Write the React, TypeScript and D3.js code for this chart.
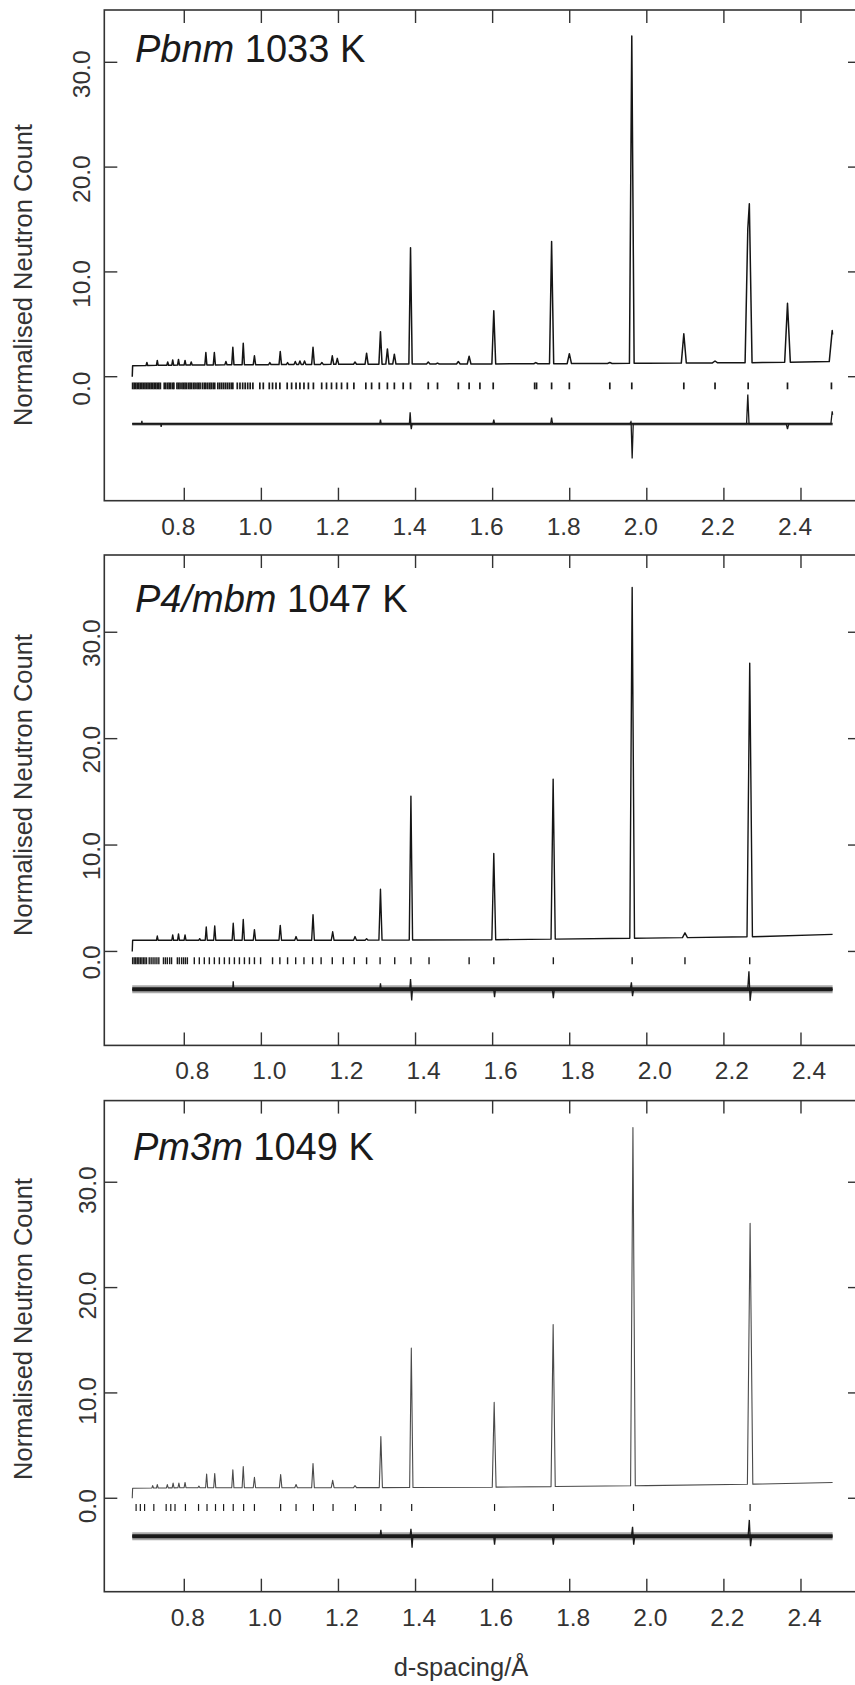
import React, { useRef, useEffect } from "react";
import * as d3 from "d3";

// shared axes
const xTicks = [0.8, 1.0, 1.2, 1.4, 1.6, 1.8, 2.0, 2.2, 2.4];
const yTicks = [0, 10, 20, 30];

// ---- Pbnm 1033 K ----
const bg1D = [0.665, 0.666, 0.75, 1.0, 1.3, 1.6, 2.0, 2.3, 2.482];
const bg1V = [0, 1.05, 1.1, 1.15, 1.2, 1.22, 1.28, 1.35, 1.45];
const pk1D = [0.703, 0.73, 0.757, 0.77, 0.785, 0.802, 0.818, 0.856, 0.878, 0.908, 0.926, 0.953, 0.982, 1.022, 1.049, 1.068, 1.088, 1.1, 1.112, 1.134, 1.157, 1.184, 1.197, 1.243, 1.273, 1.309, 1.327, 1.345, 1.387, 1.433, 1.457, 1.511, 1.539, 1.603, 1.712, 1.753, 1.799, 1.904, 1.961, 2.096, 2.177, 2.262, 2.266, 2.365, 2.481];
const pk1V = [1.35, 1.55, 1.4, 1.6, 1.65, 1.55, 1.4, 2.3, 2.3, 1.45, 2.8, 3.2, 2.0, 1.35, 2.4, 1.35, 1.45, 1.5, 1.5, 2.8, 1.35, 2.0, 1.75, 1.4, 2.25, 4.3, 2.65, 2.15, 12.3, 1.4, 1.3, 1.45, 1.95, 6.3, 1.35, 12.9, 2.2, 1.35, 32.5, 4.1, 1.5, 14.1, 16.5, 7.0, 4.4];
const tk1D = [
  0.666, 0.67, 0.674, 0.678, 0.682, 0.686, 0.69, 0.694, 0.698, 0.702, 0.706, 0.71, 0.714, 0.718, 0.722, 0.726, 0.73, 0.734, 0.738,
  0.748, 0.752, 0.757, 0.761, 0.765, 0.77, 0.773,
  0.781, 0.785, 0.789, 0.794, 0.798, 0.802, 0.806, 0.811, 0.815, 0.819, 0.824, 0.828, 0.833, 0.837, 0.841,
  0.847, 0.852, 0.856, 0.861, 0.866, 0.87, 0.875, 0.879,
  0.887, 0.892, 0.897, 0.902, 0.907, 0.912, 0.917, 0.922, 0.926,
  0.9375, 0.9445, 0.9515, 0.958, 0.9645, 0.971, 0.978, 0.996, 1.005, 1.0205, 1.029, 1.038, 1.048,
  1.067, 1.0785, 1.09, 1.1, 1.1105, 1.122, 1.135, 1.1565, 1.169, 1.182, 1.195, 1.208, 1.223, 1.24,
  1.271, 1.286, 1.306, 1.327, 1.345, 1.368, 1.387, 1.433, 1.457, 1.511, 1.539, 1.567, 1.6015,
  1.709, 1.714, 1.753, 1.799, 1.904, 1.961, 2.096, 2.177, 2.263, 2.365, 2.479,
];
const df1D = [0.69, 0.74, 1.309, 1.386, 1.389, 1.603, 1.753, 1.959, 1.962, 2.262, 2.365, 2.481];
const df1V = [-4.2, -4.8, -4.1, -3.4, -5.0, -4.1, -3.9, -4.3, -7.8, -1.7, -5.0, -3.3];

// ---- P4/mbm 1047 K ----
const bg2D = [0.665, 0.666, 0.8, 1.2, 1.6, 2.0, 2.3, 2.482];
const bg2V = [0, 1.05, 1.05, 1.05, 1.1, 1.25, 1.4, 1.6];
const pk2D = [0.73, 0.77, 0.785, 0.802, 0.84, 0.857, 0.879, 0.927, 0.953, 0.982, 1.049, 1.09, 1.134, 1.185, 1.243, 1.273, 1.309, 1.388, 1.603, 1.757, 1.962, 2.099, 2.267];
const pk2V = [1.45, 1.55, 1.65, 1.55, 1.2, 2.3, 2.4, 2.65, 3.0, 2.05, 2.45, 1.4, 3.45, 1.85, 1.4, 1.2, 5.85, 14.6, 9.2, 16.2, 34.2, 1.75, 27.1];
const tk2D = [
  0.666, 0.67, 0.674, 0.678, 0.682, 0.686, 0.69, 0.694, 0.698, 0.702,
  0.709, 0.714, 0.719, 0.724, 0.729, 0.734,
  0.746, 0.751, 0.756, 0.762, 0.767,
  0.782, 0.787, 0.793, 0.798, 0.803, 0.808,
  0.826, 0.839, 0.852, 0.865, 0.878, 0.891, 0.904, 0.917, 0.93, 0.943, 0.956, 0.969, 0.982, 0.998,
  1.029, 1.048, 1.068, 1.089, 1.1105, 1.133, 1.155, 1.184, 1.2125, 1.241, 1.273, 1.308, 1.346, 1.388, 1.435,
  1.539, 1.603, 1.7575, 1.962, 2.099, 2.267,
];
const df2D = [0.927, 1.309, 1.387, 1.39, 1.605, 1.7575, 1.96, 1.963, 2.265, 2.268];
const df2V = [-2.8, -3.0, -2.6, -4.6, -4.3, -4.4, -2.9, -4.2, -1.8, -4.7];

// ---- Pm3m 1049 K ----
const bg3D = [0.665, 0.666, 0.8, 1.2, 1.6, 2.0, 2.3, 2.482];
const bg3V = [0, 0.95, 1.0, 1.0, 1.05, 1.2, 1.35, 1.5];
const pk3D = [0.718, 0.73, 0.756, 0.771, 0.786, 0.802, 0.838, 0.858, 0.879, 0.926, 0.953, 0.982, 1.05, 1.09, 1.134, 1.185, 1.243, 1.31, 1.389, 1.604, 1.757, 1.964, 2.268];
const pk3V = [1.2, 1.3, 1.3, 1.45, 1.45, 1.5, 1.15, 2.3, 2.35, 2.7, 3.0, 2.0, 2.25, 1.3, 3.3, 1.7, 1.2, 5.85, 14.25, 9.1, 16.5, 35.2, 26.1];
const tk3D = [0.675, 0.686, 0.697, 0.721, 0.753, 0.765, 0.776, 0.803, 0.837, 0.859, 0.881, 0.902, 0.927, 0.954, 0.982, 1.05, 1.09, 1.135, 1.186, 1.244, 1.31, 1.39, 1.605, 1.7575, 1.9655, 2.268];
const df3D = [1.31, 1.388, 1.391, 1.605, 1.7575, 1.963, 1.966, 2.266, 2.269];
const df3V = [-3.0, -2.9, -4.7, -4.4, -4.4, -2.7, -4.4, -2.0, -4.6];

const panels = [
  {
    group: "Pbnm", temp: " 1033 K",
    bgD: bg1D, bgV: bg1V, pkD: pk1D, pkV: pk1V, tkD: tk1D, dfD: df1D, dfV: df1V, dfBase: -4.5,
    top: 10, bottom: 500.7, yMin: -11.83, yMax: 34.99,
    titleY: 61.7, titleX: 135, yLabX: 90, yLabDy: 12, xLabDx: -6, yTitleY: 275,
    line: "#151515", lineW: 1.5, band: 1.8, fringe: 3.5, tkW: 1.7,
  },
  {
    group: "P4/mbm", temp: " 1047 K",
    bgD: bg2D, bgV: bg2V, pkD: pk2D, pkV: pk2V, tkD: tk2D, dfD: df2D, dfV: df2V, dfBase: -3.56,
    top: 555, bottom: 1045.4, yMin: -8.83, yMax: 37.26,
    titleY: 611.7, titleX: 135, yLabX: 100, yLabDy: 11, xLabDx: 8, yTitleY: 785,
    line: "#151515", lineW: 1.4, band: 4, fringe: 8, tkW: 1.4,
  },
  {
    group: "Pm3m", temp: " 1049 K",
    bgD: bg3D, bgV: bg3V, pkD: pk3D, pkV: pk3V, tkD: tk3D, dfD: df3D, dfV: df3V, dfBase: -3.6,
    top: 1100.6, bottom: 1591.7, yMin: -8.87, yMax: 37.75,
    titleY: 1160.2, titleX: 133, yLabX: 96, yLabDy: 8, xLabDx: 3.5, yTitleY: 1329,
    line: "#4a4a4a", lineW: 1.1, band: 4, fringe: 8, tkW: 1.2,
  },
];

const W = 855;
const H = 1685;
const xLeft = 104.3;
const xRight = 861;
const tickLen = 13;
const font = "'Liberation Sans', Arial, Helvetica, sans-serif";
const ink = "#333";

// spikes standing on a baseline; knots = extra baseline sample points
// mode "max" for overlapping Bragg peaks, "sum" for the difference curve
function spikes(baseAt, knots, ds, vs, hw, end, mode) {
  const xs = new Set(knots);
  xs.add(end);
  ds.forEach((d) => {
    xs.add(d - hw(d));
    xs.add(d);
    xs.add(d + hw(d));
  });
  const start = knots[0];
  const pts = Array.from(xs)
    .filter((s) => s >= start && s <= end)
    .sort((a, b) => a - b);
  return pts.map((s) => {
    const b = baseAt(s);
    let add = 0;
    ds.forEach((d, i) => {
      const t = 1 - Math.abs(s - d) / hw(d);
      if (t > 0) {
        const c = (vs[i] - baseAt(d)) * t;
        add = mode === "max" ? Math.max(add, c) : add + c;
      }
    });
    return [s, b + add];
  });
}

export default function App() {
  const ref = useRef(null);

  useEffect(() => {
    d3.select(ref.current).selectAll("*").remove();
    const svg = d3
      .select(ref.current)
      .append("svg")
      .attr("width", W)
      .attr("height", H)
      .style("display", "block");

    const x = d3.scaleLinear().domain([0.5925, 2.5557]).range([xLeft, xRight]);

    panels.forEach((p) => {
      const y = d3.scaleLinear().domain([p.yMin, p.yMax]).range([p.bottom, p.top]);
      const g = svg.append("g");
      const line = d3
        .line()
        .x((d) => x(d[0]))
        .y((d) => y(d[1]));

      // frame
      g.append("rect")
        .attr("x", xLeft)
        .attr("y", p.top)
        .attr("width", xRight - xLeft)
        .attr("height", p.bottom - p.top)
        .attr("fill", "none")
        .attr("stroke", ink)
        .attr("stroke-width", 1.6);

      // inward ticks on all four sides
      xTicks.forEach((t) => {
        g.append("line")
          .attr("x1", x(t)).attr("x2", x(t))
          .attr("y1", p.bottom).attr("y2", p.bottom - tickLen)
          .attr("stroke", ink).attr("stroke-width", 1.4);
        g.append("line")
          .attr("x1", x(t)).attr("x2", x(t))
          .attr("y1", p.top).attr("y2", p.top + tickLen)
          .attr("stroke", ink).attr("stroke-width", 1.4);
        g.append("text")
          .attr("x", x(t) + p.xLabDx)
          .attr("y", p.bottom + 34)
          .attr("text-anchor", "middle")
          .attr("font-family", font)
          .attr("font-size", 24.5)
          .attr("fill", ink)
          .text(d3.format(".1f")(t));
      });
      yTicks.forEach((t) => {
        g.append("line")
          .attr("x1", xLeft).attr("x2", xLeft + tickLen)
          .attr("y1", y(t)).attr("y2", y(t))
          .attr("stroke", ink).attr("stroke-width", 1.4);
        g.append("line")
          .attr("x1", xRight).attr("x2", xRight - tickLen)
          .attr("y1", y(t)).attr("y2", y(t))
          .attr("stroke", ink).attr("stroke-width", 1.4);
        g.append("text")
          .attr("transform", `translate(${p.yLabX},${y(t) + p.yLabDy}) rotate(-90)`)
          .attr("text-anchor", "middle")
          .attr("font-family", font)
          .attr("font-size", 24.5)
          .attr("fill", ink)
          .text(d3.format(".1f")(t));
      });

      // y title
      g.append("text")
        .attr("transform", `translate(31.7,${p.yTitleY}) rotate(-90)`)
        .attr("text-anchor", "middle")
        .attr("font-family", font)
        .attr("font-size", 25.5)
        .attr("fill", ink)
        .text("Normalised Neutron Count");

      // panel title
      const title = g
        .append("text")
        .attr("x", p.titleX)
        .attr("y", p.titleY)
        .attr("font-family", font)
        .attr("font-size", 38)
        .attr("fill", "#1a1a1a");
      title.append("tspan").attr("font-style", "italic").text(p.group);
      title.append("tspan").text(p.temp);

      const start = p.bgD[0];
      const end = p.bgD[p.bgD.length - 1];

      // difference curve: noisy band + spikes
      g.append("line")
        .attr("x1", x(start)).attr("x2", x(end))
        .attr("y1", y(p.dfBase)).attr("y2", y(p.dfBase))
        .attr("stroke", "#555").attr("stroke-opacity", 0.5)
        .attr("stroke-width", p.fringe);
      g.append("line")
        .attr("x1", x(start)).attr("x2", x(end))
        .attr("y1", y(p.dfBase)).attr("y2", y(p.dfBase))
        .attr("stroke", "#1a1a1a")
        .attr("stroke-width", p.band);
      g.append("path")
        .attr("d", line(spikes(() => p.dfBase, [start], p.dfD, p.dfV, (d) => 0.0014 * d, end, "sum")))
        .attr("fill", "none")
        .attr("stroke", "#1a1a1a")
        .attr("stroke-width", 1.3);

      // reflection markers
      g.selectAll(null)
        .data(p.tkD)
        .join("line")
        .attr("x1", (d) => x(d)).attr("x2", (d) => x(d))
        .attr("y1", y(-0.55)).attr("y2", y(-1.2))
        .attr("stroke", "#1a1a1a")
        .attr("stroke-width", p.tkW);

      // fitted profile
      const bg = d3.scaleLinear().domain(p.bgD).range(p.bgV).clamp(true);
      g.append("path")
        .attr("d", line(spikes(bg, p.bgD, p.pkD, p.pkV, (d) => 0.0031 * d, end, "max")))
        .attr("fill", "none")
        .attr("stroke", p.line)
        .attr("stroke-width", p.lineW)
        .attr("stroke-linejoin", "round");
    });

    // x title
    svg
      .append("text")
      .attr("x", 461)
      .attr("y", 1676)
      .attr("text-anchor", "middle")
      .attr("font-family", font)
      .attr("font-size", 25.5)
      .attr("fill", ink)
      .text("d-spacing/Å");
  }, []);

  return <div ref={ref} style={{ position: "absolute", left: 0, top: 0 }}></div>;
}
